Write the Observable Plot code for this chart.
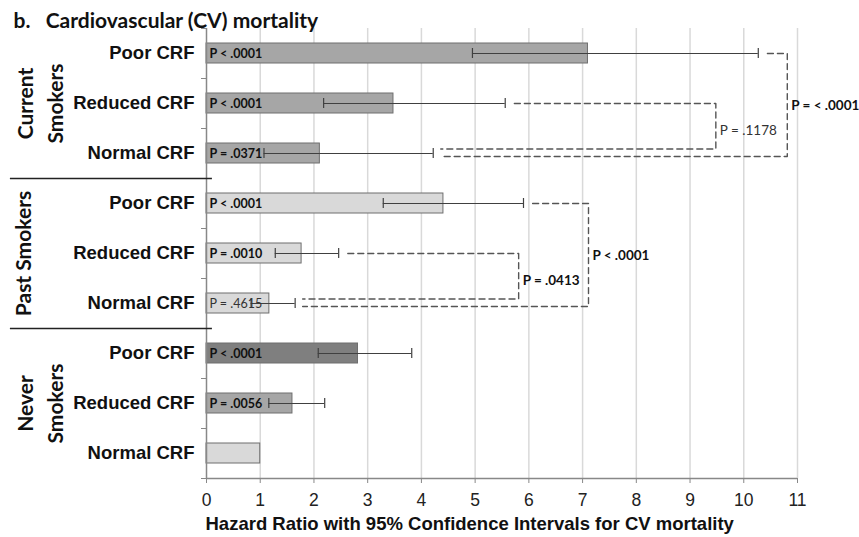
<!DOCTYPE html>
<html><head><meta charset="utf-8">
<script src="https://cdn.jsdelivr.net/npm/d3@7"></script>
<script src="https://cdn.jsdelivr.net/npm/@observablehq/plot@0.6"></script>
<style>body{margin:0;background:#fff}</style>
</head><body><div id="chart"></div>
<script>
const rowLabels = ["Poor CRF","Reduced CRF","Normal CRF","Poor CRF","Reduced CRF","Normal CRF","Poor CRF","Reduced CRF","Normal CRF"];
const groupLabels = ["Current\nSmokers","Past Smokers","Never\nSmokers"];
const groupRows = [1,4,7];
const hazard = [7.1,3.48,2.11,4.41,1.77,1.17,2.82,1.6,1.0];
const ciLow  = [4.95,2.18,1.07,3.29,1.28,0.83,2.08,1.16,null];
const ciHigh = [10.27,5.56,4.22,5.9,2.46,1.65,3.82,2.2,null];
const pValues = ["P < .0001","P < .0001","P = .0371","P < .0001","P = .0010","P = .4615","P < .0001","P = .0056",""];
const pBold = [true,true,true,true,true,false,true,true,false];
const barShade = ["mid","mid","mid","light","light","light","dark","mid","light"];
const xTicks = [0,1,2,3,4,5,6,7,8,9,10,11];
// between-row comparisons (dashed brackets)
const cmpTopRow = [1,0,4,3];
const cmpBottomRow = [2,2,5,5];
const cmpX = [9.48,10.81,5.81,7.11];
const cmpP = ["P = .1178","P = < .0001","P = .0413","P < .0001"];
const cmpBold = [false,true,true,true];
const titleText = "b.\u00a0\u00a0 Cardiovascular (CV) mortality";
const xLabel = "Hazard Ratio with 95% Confidence Intervals for CV mortality";

const shadeColor = {dark:"#7f7f7f", mid:"#a6a6a6", light:"#d9d9d9"};
const rows = hazard.map((hr,i)=>({i, hr, lo: ciLow[i], hi: ciHigh[i], p: pValues[i], bold: pBold[i], fill: shadeColor[barShade[i]]}));
const ci = rows.filter(d=>d.lo!=null);
const brackets = cmpTopRow.flatMap((t,k)=>{
  const b = cmpBottomRow[k];
  const off = (b - t === 1) ? -0.09 : 0.06;
  return [
    {k, x: ciHigh[t]+0.17, y: t},
    {k, x: cmpX[k], y: t},
    {k, x: cmpX[k], y: b+off},
    {k, x: ciHigh[b]+0.14, y: b+off}
  ];
});
const cmpLabels = cmpP.map((p,k)=>({p, bold: cmpBold[k], x: cmpX[k], y: (cmpTopRow[k]+cmpBottomRow[k])/2+0.05}));
const groups = groupLabels.map((g,k)=>({g, y: groupRows[k]}));
const rowIdx = rowLabels.map((_,i)=>i);
const boundaries = d3.range(-0.5, 9, 1);

const calibri = "Lato, 'Open Sans', sans-serif";
const arial = "'Liberation Sans', Arial, sans-serif";

const chart = Plot.plot({
  width: 859, height: 537,
  marginLeft: 206, marginRight: 62, marginTop: 28, marginBottom: 59,
  x: {domain: [0, 11], axis: null},
  y: {domain: [-0.5, 8.5], reverse: true, axis: null},
  color: {type: "identity"},
  style: {fontFamily: arial, background: "#fff", overflow: "visible"},
  marks: [
    Plot.ruleX(xTicks.slice(1), {stroke: "#d9d9d9", strokeWidth: 1.5}),
    Plot.rectX(rows, {x1: 0, x2: "hr", y1: d=>d.i-0.2, y2: d=>d.i+0.2, fill: "fill", stroke: "#6e6e6e", strokeWidth: 1}),
    Plot.ruleY(ci, {x1: "lo", x2: "hi", y: "i", stroke: "#404040", strokeWidth: 1.2}),
    Plot.ruleX(ci, {x: "lo", y1: d=>d.i-0.1, y2: d=>d.i+0.1, stroke: "#404040", strokeWidth: 1.2}),
    Plot.ruleX(ci, {x: "hi", y1: d=>d.i-0.1, y2: d=>d.i+0.1, stroke: "#404040", strokeWidth: 1.2}),
    Plot.text(rows.filter(d=>d.bold), {x: 0, y: "i", text: "p", dx: 3, textAnchor: "start", fontFamily: calibri, fontWeight: "bold", fontSize: 12.5, fill: "#111"}),
    Plot.text(rows.filter(d=>!d.bold && d.p), {x: 0, y: "i", text: "p", dx: 3, textAnchor: "start", fontFamily: calibri, fontSize: 12.5, fill: "#333"}),
    Plot.line(brackets, {x: "x", y: "y", z: "k", stroke: "#555", strokeDasharray: "6,4", strokeWidth: 1.4}),
    Plot.text(cmpLabels.filter(d=>d.bold), {x: "x", y: "y", text: "p", dx: 4, textAnchor: "start", fontFamily: calibri, fontWeight: "bold", fontSize: 13.5, fill: "#111"}),
    Plot.text(cmpLabels.filter(d=>!d.bold), {x: "x", y: "y", text: "p", dx: 4, textAnchor: "start", fontFamily: calibri, fontSize: 13.5, fill: "#333"}),
    Plot.ruleX([0], {stroke: "#888", strokeWidth: 1.5}),
    Plot.ruleY([8.5], {stroke: "#888", strokeWidth: 1.5}),
    Plot.axisX({ticks: xTicks, tickSize: 5, tickPadding: 10, stroke: "#888", fill: "#222", fontSize: 17.5, label: null}),
    Plot.axisY({ticks: boundaries, tickSize: 5, tickFormat: () => "", stroke: "#888", label: null}),
    Plot.axisY({ticks: rowIdx, tickSize: 0, tickPadding: 12, tickFormat: i => rowLabels[i], fontSize: 18.5, fontWeight: "bold", fill: "#111", label: null}),
    Plot.ruleY([2.5, 5.5], {x1: -3.65, x2: 0.11, stroke: "#222", strokeWidth: 1.3}),
    Plot.text(groups.filter(d=>d.g.includes("\n")), {y: "y", text: "g", frameAnchor: "left", dx: -168, rotate: -90, textAnchor: "middle", lineAnchor: "middle", lineHeight: 1.4, fontFamily: calibri, fontWeight: "bold", fontSize: 21, fill: "#111"}),
    Plot.text(groups.filter(d=>!d.g.includes("\n")), {y: "y", text: "g", frameAnchor: "left", dx: -182.5, rotate: -90, textAnchor: "middle", lineAnchor: "middle", fontFamily: calibri, fontWeight: "bold", fontSize: 21, fill: "#111"}),
    Plot.text([titleText], {text: d=>d, frameAnchor: "top-left", dx: -193, dy: -7.5, textAnchor: "start", lineAnchor: "middle", fontFamily: calibri, fontWeight: "bold", fontSize: 21, fill: "#111"}),
    Plot.text([xLabel], {text: d=>d, frameAnchor: "bottom-left", dx: -1, dy: 46, textAnchor: "start", lineAnchor: "middle", fontFamily: arial, fontWeight: "bold", fontSize: 18.5, fill: "#111"})
  ]
});
document.getElementById("chart").appendChild(chart);
</script>
</body></html>
